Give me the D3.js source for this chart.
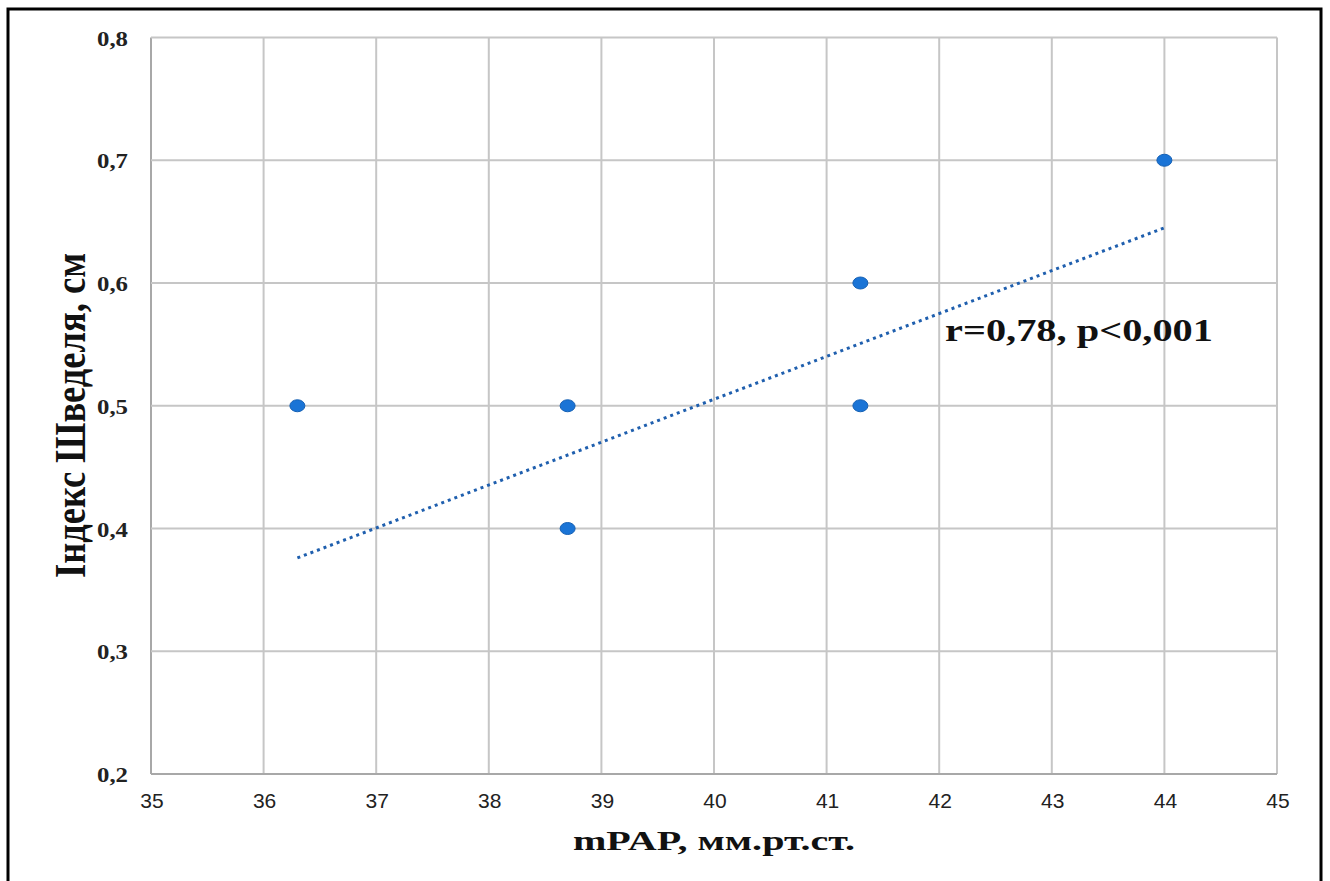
<!DOCTYPE html>
<html>
<head>
<meta charset="utf-8">
<script src="https://cdn.jsdelivr.net/npm/d3@7"></script>
<style>
  body { margin: 0; background: #fff; }
</style>
</head>
<body>
<script>
// data
const mpap = [36.3, 38.7, 38.7, 41.3, 41.3, 44];
const shvedel = [0.5, 0.5, 0.4, 0.6, 0.5, 0.7];
const trendX = [36.3, 44];
const trendY = [0.376, 0.645];
const xTicks = [35, 36, 37, 38, 39, 40, 41, 42, 43, 44, 45];
const yTicks = [0.2, 0.3, 0.4, 0.5, 0.6, 0.7, 0.8];
const note = "r=0,78, p<0,001";

const W = 1330, H = 881;
const svg = d3.select("body").append("svg")
    .attr("width", W)
    .attr("height", H);

/** outer black frame (bottom edge runs off the picture) */
svg.append("rect")
    .attr("x", 8).attr("y", 9)
    .attr("width", 1313).attr("height", 900)
    .attr("fill", "none")
    .attr("stroke", "#000")
    .attr("stroke-width", 3);

const x = d3.scaleLinear().domain([35, 45]).range([151, 1277]);
const y = d3.scaleLinear().domain([0.2, 0.8]).range([774, 37.5]);

/** grid lines */
svg.append("g").selectAll("line")
    .data(xTicks).enter().append("line")
    .attr("x1", d => x(d)).attr("x2", d => x(d))
    .attr("y1", y(0.8)).attr("y2", y(0.2))
    .attr("stroke", d => d === 35 ? "#a8a8a8" : "#c6c6c6")
    .attr("stroke-width", 2);

svg.append("g").selectAll("line")
    .data(yTicks).enter().append("line")
    .attr("x1", x(35)).attr("x2", x(45))
    .attr("y1", d => y(d)).attr("y2", d => y(d))
    .attr("stroke", d => d === 0.2 ? "#a8a8a8" : "#c6c6c6")
    .attr("stroke-width", 2);

/** tick labels */
svg.append("g").selectAll("text")
    .data(yTicks).enter().append("text")
    .attr("x", 97)
    .attr("y", d => y(d) + 8)
    .attr("font-family", "Liberation Serif")
    .attr("font-size", 22)
    .attr("font-weight", "bold")
    .attr("textLength", 31)
    .attr("lengthAdjust", "spacingAndGlyphs")
    .attr("fill", "#222")
    .text(d => d3.format(".1f")(d).replace(".", ","));

svg.append("g").selectAll("text")
    .data(xTicks).enter().append("text")
    .attr("x", d => x(d) + 1)
    .attr("y", y(0.2) + 34)
    .attr("text-anchor", "middle")
    .attr("font-family", "Liberation Sans")
    .attr("font-size", 21)
    .attr("fill", "#222")
    .text(d => d);

/** dotted trend line */
const line = d3.line().x(d => x(d[0])).y(d => y(d[1]));
svg.append("path")
    .datum(d3.zip(trendX, trendY))
    .attr("d", line)
    .attr("fill", "none")
    .attr("stroke", "#1f5fae")
    .attr("stroke-width", 3)
    .attr("stroke-dasharray", "3,4");

/** points */
svg.append("g").selectAll("ellipse")
    .data(d3.zip(mpap, shvedel)).enter().append("ellipse")
    .attr("cx", d => x(d[0]))
    .attr("cy", d => y(d[1]))
    .attr("rx", 7.5).attr("ry", 6)
    .attr("fill", "#1a74d6")
    .attr("stroke", "#1560b4")
    .attr("stroke-width", 1);

/** annotation */
svg.append("text")
    .attr("x", 945).attr("y", 341)
    .attr("font-family", "Liberation Serif")
    .attr("font-size", 31)
    .attr("font-weight", "bold")
    .attr("textLength", 268)
    .attr("lengthAdjust", "spacingAndGlyphs")
    .attr("fill", "#111")
    .text(note);

/** axis titles */
svg.append("text")
    .attr("x", 573).attr("y", 850)
    .attr("font-family", "Liberation Serif")
    .attr("font-size", 27)
    .attr("font-weight", "bold")
    .attr("textLength", 282)
    .attr("lengthAdjust", "spacingAndGlyphs")
    .attr("fill", "#111")
    .text("mPAP, мм.рт.ст.");

svg.append("text")
    .attr("transform", "translate(85,578) rotate(-90)")
    .attr("font-family", "Liberation Serif")
    .attr("font-size", 44)
    .attr("font-weight", "bold")
    .attr("textLength", 325)
    .attr("lengthAdjust", "spacingAndGlyphs")
    .attr("fill", "#111")
    .text("Індекс Шведеля, см");
</script>
</body>
</html>
